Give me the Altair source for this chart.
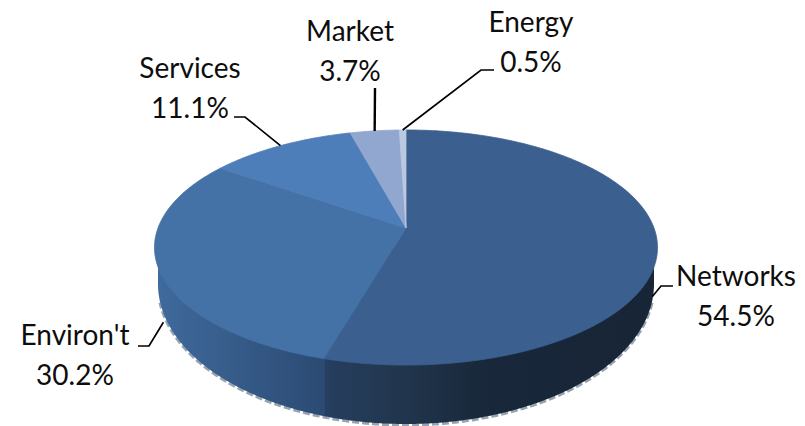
import math
import altair as alt
import pandas as pd

names = ["Networks", "Environ't", "Services", "Market", "Energy"]
shares = [54.5, 30.2, 11.1, 3.7, 0.5]
top_colors = ["#3B5F8E", "#4472A7", "#4E7EB9", "#91A7CF", "#BAC8E0"]
label_rows = [["Networks", "54.5%"], ["Environ't", "30.2%"], ["Services", "11.1%"], ["Market", "3.7%"], ["Energy", "0.5%"]]

W, H = 789, 418
CX, CY, RX_B, RY_A, P = 406, 228, 248, 114.3, 0.166
RIM_RX, RIM_CY, RIM_RY = 248, 284, 140
FONT = "Lato"
FONT_SIZE = 28

X = alt.Scale(domain=[8, 8 + W], nice=False, zero=False)
Y = alt.Scale(domain=[8 + H, 8], nice=False, zero=False)


def project(pct, drop=0, shrink=1.0):
    t = pct / 100 * 2 * math.pi
    u, v = math.sin(t), math.cos(t)
    w = 1 + P * v
    return CX + shrink * RX_B * u / w, CY - RY_A * v / w + drop


# slice boundaries, cumulative clockwise from 12 o'clock
total = sum(shares)
starts = [sum(shares[:i]) / total * 100 for i in range(len(shares))]
ends = starts[1:] + [100.0]


def x_chan():
    return alt.X("x:Q", scale=X, axis=None)


def y_chan():
    return alt.Y("y:Q", scale=Y, axis=None)


# wall outline along the bottom rim (front half only)
rim = []
for i in range(250, 751):
    s = i / 1000 * 2 * math.pi
    rim.append({
        "x": CX + RIM_RX * math.sin(s),
        "y": RIM_CY - RIM_RY * math.cos(s),
        "y0": CY + 20,
        "s": i,
    })
rim = pd.DataFrame(rim)
split_x = project(ends[0])[0]

halo_data = rim[(rim.s >= 270) & (rim.s <= 730)]
halo = alt.Chart(halo_data.assign(y=halo_data.y + 1)).mark_line(
    color="#97a3b1", strokeWidth=3, strokeDash=[7, 3]
).encode(x=x_chan(), y=y_chan(), order="s:Q")

net_wall = alt.Chart(rim[rim.x >= split_x]).mark_area(
    color=alt.Gradient(
        gradient="linear", x1=0, x2=1, y1=0, y2=0,
        stops=[
            alt.GradientStop(offset=0, color="#263F60"),
            alt.GradientStop(offset=0.2, color="#22374F"),
            alt.GradientStop(offset=0.5, color="#182739"),
            alt.GradientStop(offset=1, color="#172537"),
        ],
    )
).encode(x=x_chan(), y=y_chan(), y2="y0:Q")

env_wall = alt.Chart(rim[rim.x <= split_x + 4]).mark_area(
    color=alt.Gradient(
        gradient="linear", x1=0, x2=1, y1=0, y2=0,
        stops=[
            alt.GradientStop(offset=0, color="#3F6A9C"),
            alt.GradientStop(offset=1, color="#2B4A72"),
        ],
    )
).encode(x=x_chan(), y=y_chan(), y2="y0:Q")

# top surface wedges
wedges = []
for k, name in enumerate(names):
    pts = [(CX, CY)]
    n = max(4, int((ends[k] - starts[k]) * 4))
    for j in range(n + 1):
        pts.append(project(starts[k] + (ends[k] - starts[k]) * j / n))
    pts.append((CX, CY))
    for o, (x, y) in enumerate(pts):
        wedges.append({"name": name, "x": x, "y": y, "o": o})
wedges = pd.DataFrame(wedges)

top_layers = [
    alt.Chart(wedges[wedges.name == name]).mark_line(
        fill=top_colors[k], stroke=top_colors[k], strokeWidth=0.8, filled=True
    ).encode(x=x_chan(), y=y_chan(), order="o:Q")
    for k, name in enumerate(names)
]

# labels: each leader starts at its slice's mid-point on the pie rim
mids = [(a + b) / 2 for a, b in zip(starts, ends)]
drops = [52, 54, 0, 0, 0]
shrinks = [0.98, 0.98, 1, 1, 1]
label_xy = [(736, 286), (75, 345), (190, 78), (350, 41), (531, 32)]
LINE_GAP = 40
elbows = [[(661, 286), (673, 286)], [(149, 346), (138, 346)], [(245, 117), (234, 117)], [(375, 88)], [(481, 70), (494, 70)]]
leader_widths = [1.7, 1.7, 1.7, 2.4, 1.7]

texts, leaders = [], []
for k, rows in enumerate(label_rows):
    lx, ly = label_xy[k]
    for r, t in enumerate(rows):
        texts.append({"x": lx, "y": ly + r * LINE_GAP, "t": t})
    sx, sy = project(mids[k], drops[k], shrinks[k])
    seq = [(sx, sy)] + elbows[k]
    for o, (x, y) in enumerate(seq):
        leaders.append({"x": x, "y": y, "o": o, "name": names[k]})
leaders = pd.DataFrame(leaders)

leader_layers = [
    alt.Chart(leaders[leaders.name == name]).mark_line(color="black", strokeWidth=leader_widths[k]).encode(
        x=x_chan(), y=y_chan(), order="o:Q"
    )
    for k, name in enumerate(names)
]
text_layer = alt.Chart(pd.DataFrame(texts)).mark_text(
    font=FONT, fontSize=FONT_SIZE, color="#0d0d0d", align="center", baseline="alphabetic"
).encode(x=x_chan(), y=y_chan(), text="t:N")

chart = alt.layer(
    halo, env_wall, net_wall, *top_layers, *leader_layers, text_layer
).properties(
    width=W, height=H, padding=0, background="white",
    autosize=alt.AutoSizeParams(type="none"),
).configure_view(stroke=None)

chart.save("out.html", embed_options={"renderer": "svg", "actions": False})
